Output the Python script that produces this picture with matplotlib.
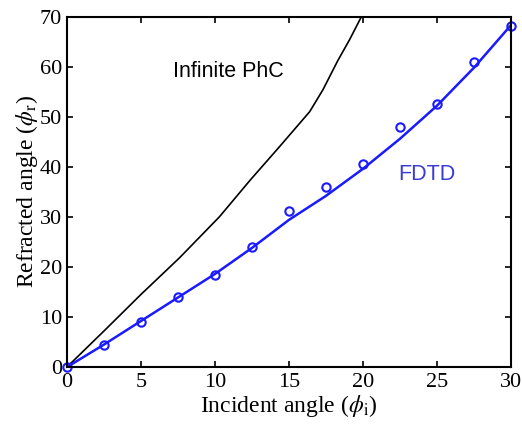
import matplotlib.pyplot as plt

plt.rcParams['font.family'] = 'Liberation Serif'
plt.rcParams['mathtext.fontset'] = 'stix'

# infinite photonic crystal curve
phc_x = [0, 2.57, 5.0, 7.6, 10.3, 12.4, 14.3, 16.4, 17.3, 18.3, 19.1, 19.9]
phc_y = [0, 7.4, 14.5, 21.8, 30.0, 37.4, 43.8, 51.0, 55.4, 61.2, 65.4, 70.0]

# FDTD points and fitted line
fdtd_x = [0, 2.5, 5, 7.5, 10, 12.5, 15, 17.5, 20, 22.5, 25, 27.5, 30]
fdtd_y = [0, 4.5, 9.0, 14.0, 18.5, 24.0, 31.2, 36.0, 40.6, 48.0, 52.5, 61.0, 68.2]
fit_y = [0, 4.5, 9.2, 13.9, 18.6, 23.8, 29.4, 34.2, 39.6, 45.6, 52.2, 59.8, 68.3]

fig = plt.figure(figsize=(5.22, 4.24), dpi=100)
ax = fig.add_axes([0.128, 0.134, 0.851, 0.827])

ax.plot(phc_x, phc_y, color='black', lw=1.2)
ax.plot(fdtd_x, fit_y, color='#1a1aff', lw=1.8)
ax.plot(fdtd_x, fdtd_y, 'o', mfc='none', mec='#1a1aff', ms=6, mew=1.5, clip_on=False)

ax.text(7.2, 59, 'Infinite PhC', family='Liberation Sans', fontsize=15.5, va='center')
ax.text(22.4, 38.4, 'FDTD', family='Liberation Sans', fontsize=15.5, va='center', color='#3b3bd6')

ax.set_xlim(0, 30)
ax.set_ylim(0, 70)
ax.set_xticks(range(0, 31, 5))
ax.set_yticks(range(0, 71, 10))
ax.tick_params(direction='in', top=True, right=True, labelsize=16, length=4, width=1.2)
ax.tick_params(axis='x', pad=4)
ax.tick_params(axis='y', pad=3.5)
for s in ax.spines.values():
    s.set_linewidth(1.5)

ax.set_xlabel(r'Incident angle ($\phi_{\rm i}$)', fontsize=17, labelpad=1)
ax.set_ylabel(r'Refracted angle ($\phi_{\rm r}$)', fontsize=17, labelpad=0)

fig.savefig('out.png')
